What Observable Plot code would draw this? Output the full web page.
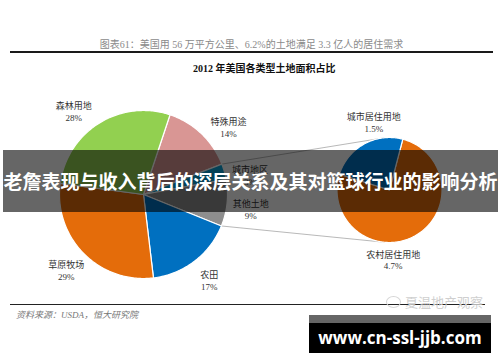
<!DOCTYPE html>
<html>
<head>
<meta charset="utf-8">
<script src="https://cdn.jsdelivr.net/npm/d3@7"></script>
<script src="https://cdn.jsdelivr.net/npm/@observablehq/plot@0.6"></script>
<style>
  html, body { margin: 0; padding: 0; background: #fff; }
  #wrap { position: relative; width: 500px; height: 362px; overflow: hidden; background: #fff;
          font-family: "Liberation Serif", "Noto Sans CJK SC", serif; }
  #chart { position: absolute; left: 0; top: 0; }
  .abs { position: absolute; white-space: nowrap; }
  #hdr { left: 10px; top: 39px; width: 483px; height: 12px; line-height: 12px; text-align: center;
         font-size: 10px; color: #8a8a8a; border-bottom: 2px solid #1a1a1a; }
  #ttl { left: 193px; top: 63px; font-size: 10px; font-weight: bold; color: #111; line-height: 12px; }
  #frule { left: 10px; top: 304px; width: 475px; border-top: 1.5px solid #222; }
  #src { left: 16px; top: 309px; font-size: 9px; font-style: italic; color: #777; line-height: 12px; }
  #wm { left: 386px; top: 294px; font-size: 13px; color: #cfcfcf; line-height: 16px;
        font-family: "Noto Sans CJK SC", sans-serif; }
  #wm .ic { display: inline-block; width: 13px; height: 10px; border: 1.5px solid #d6d6d6; border-radius: 50%;
            margin-right: 4px; vertical-align: -1px; }
  #banner { left: 3px; top: 150px; width: 495px; height: 62px; line-height: 62px; text-align: center;
            background: rgba(0,0,0,0.6); color: #fff; font-size: 19px; font-weight: bold;
            font-family: "Noto Sans CJK SC", sans-serif; }
  #box { left: 309px; top: 315px; width: 182px; height: 38px; box-sizing: border-box;
         background: #000; border-top: 8px solid #666; color: #fff; text-align: center;
         font-family: "Open Sans", "DejaVu Sans", sans-serif; font-weight: bold; font-size: 17px; line-height: 29px; }
</style>
</head>
<body>
<div id="wrap">
  <div id="chart"></div>
  <div id="hdr" class="abs"></div>
  <div id="ttl" class="abs"></div>
  <div id="frule" class="abs"></div>
  <div id="src" class="abs"></div>
  <div id="wm" class="abs"><span class="ic"></span><span id="wmt"></span></div>
  <div id="banner" class="abs"></div>
  <div id="box" class="abs"></div>
</div>
<script>
// ---------- data ----------
const headerText = "图表61：美国用 56 万平方公里、6.2%的土地满足 3.3 亿人的居住需求";
const titleText = "2012 年美国各类型土地面积占比";
const sourceText = "资料来源：USDA，恒大研究院";
const bannerText = "老詹表现与收入背后的深层关系及其对篮球行业的影响分析";
const watermarkText = "夏温地产观察";
const siteText = "www.cn-ssl-jjb.com";

// primary pie (clockwise from 特殊用途)
const landNames = ["特殊用途", "城市地区", "其他土地", "农田", "草原牧场", "森林用地"];
const landShares = [14, 3, 9, 17, 29, 28];
const landLabels = ["14%", "3%", "9%", "17%", "29%", "28%"];

// secondary pie: residential land (clockwise from 农村居住用地)
const resNames = ["农村居住用地", "城市居住用地"];
const resShares = [4.7, 1.5];
const resLabels = ["4.7%", "1.5%"];

// the primary slices that the secondary pie breaks out
const linkedSlices = ["城市地区", "其他土地"];

// ---------- styles / layout ----------
const colors = {
  "特殊用途": "#d99694", "城市地区": "#0aa3d6", "其他土地": "#8e8e8e", "农田": "#0070c0",
  "草原牧场": "#e46c0a", "森林用地": "#92d050",
  "农村居住用地": "#e46c0a", "城市居住用地": "#0070c0"
};
const leftPie = {cx: 143, cy: 194, r: 84, start: 18.4, labelR: 1.29,
                 labelNudge: {"森林用地": -8, "特殊用途": 8, "城市地区": 5.5, "其他土地": 2}};
const rightPie = {cx: 389, cy: 189.5, r: 52.5, start: 14.7, labelR: 1.33,
                  labelAngle: {"城市居住用地": -13, "农村居住用地": 177}};
const font = "Liberation Serif, Noto Sans CJK SC, serif";

document.getElementById("hdr").textContent = headerText;
document.getElementById("ttl").textContent = titleText;
document.getElementById("src").textContent = sourceText;
document.getElementById("wmt").textContent = watermarkText;
document.getElementById("banner").textContent = bannerText;
document.getElementById("box").textContent = siteText;

const deg = Math.PI / 180;
function arcsOf(names, values, labels, pie) {
  const s = pie.start * deg;
  return d3.pie().sort(null).startAngle(s).endAngle(s + 2 * Math.PI)(values)
    .map((a, i) => ({name: names[i], label: labels[i], a0: a.startAngle, a1: a.endAngle}));
}
const pt = (pie, a, k = 1) => ({x: pie.cx + pie.r * k * Math.sin(a), y: pie.cy - pie.r * k * Math.cos(a)});
function polygon(pie, s) {
  const n = Math.max(2, Math.ceil((s.a1 - s.a0) / deg));
  const pts = [{x: pie.cx, y: pie.cy}];
  for (let k = 0; k <= n; k++) pts.push(pt(pie, s.a0 + (s.a1 - s.a0) * k / n));
  pts.push({x: pie.cx, y: pie.cy});
  return pts;
}

const leftArcs = arcsOf(landNames, landShares, landLabels, leftPie);
const rightArcs = arcsOf(resNames, resShares, resLabels, rightPie);

const leftText = leftArcs.map(s => ({
  ...pt(leftPie, (s.a0 + s.a1) / 2 + (leftPie.labelNudge[s.name] || 0) * deg, leftPie.labelR),
  t: s.name + "\n" + s.label}));
const rightText = rightArcs.map(s => ({...pt(rightPie, rightPie.labelAngle[s.name] * deg, rightPie.labelR), t: s.name + "\n" + s.label}));

// connector lines: from the edges of the linked primary slices to the top / bottom of the secondary pie
const linked = leftArcs.filter(s => linkedSlices.includes(s.name));
const aStart = d3.min(linked, s => s.a0), aEnd = d3.max(linked, s => s.a1);
const connectors = [
  {id: "top", ...pt(leftPie, aStart)}, {id: "top", ...pt(rightPie, -5 * deg)},
  {id: "bot", ...pt(leftPie, aEnd)}, {id: "bot", ...pt(rightPie, 185 * deg)}
];

const marks = [
  Plot.line(connectors, {x: "x", y: "y", z: "id", stroke: "#a6a6a6", strokeWidth: 0.8}),
  ...leftArcs.map(s => Plot.line(polygon(leftPie, s), {x: "x", y: "y", fill: colors[s.name], stroke: "#fff", strokeWidth: 1.2, strokeLinejoin: "round"})),
  ...rightArcs.map(s => Plot.line(polygon(rightPie, s), {x: "x", y: "y", fill: colors[s.name], stroke: "#fff", strokeWidth: 1.2, strokeLinejoin: "round"})),
  Plot.text(leftText, {x: "x", y: "y", text: "t", fontSize: 9, lineHeight: 1.3, fill: "#333", fontFamily: font}),
  Plot.text(rightText, {x: "x", y: "y", text: "t", fontSize: 9, lineHeight: 1.3, fill: "#333", fontFamily: font})
];

const chart = Plot.plot({
  width: 500, height: 362, margin: 0,
  x: {domain: [0, 500], range: [0, 500], axis: null},
  y: {domain: [0, 362], range: [0, 362], axis: null},
  style: {background: "#fff", overflow: "visible"},
  marks
});
document.getElementById("chart").appendChild(chart);
</script>
</body>
</html>
